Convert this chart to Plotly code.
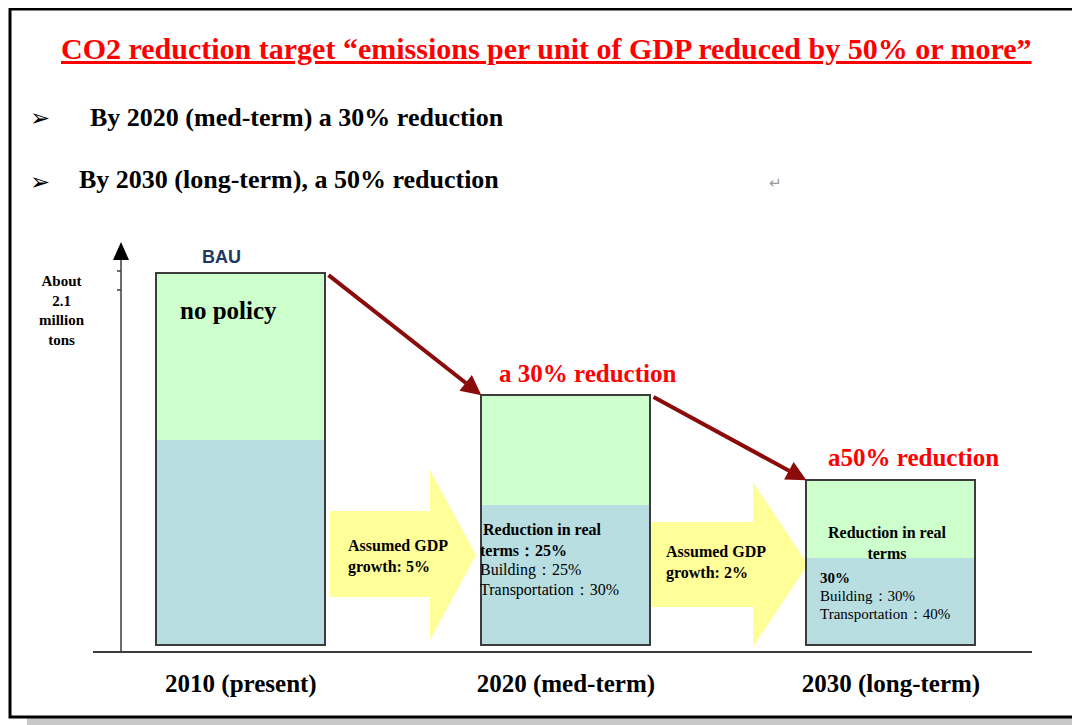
import plotly.graph_objects as go

# ---- data ----
categories = ["2010 (present)", "2020 (med-term)", "2030 (long-term)"]
cat_pos = [0, 1, 2]
total_emissions = [2.1, 1.41, 0.93]      # million tons (BAU = about 2.1)
real_reduction_part = [1.16, 0.79, 0.49]  # lower (blue) segment
bar_width = 0.52

OFF = 8  # page body margin in the browser
W, H = 1080 - OFF, 725 - OFF
SERIF = "Liberation Serif, Times New Roman, serif"

def px(x):
    return (x - OFF) / W

def py(y):
    return 1 - (y - OFF) / H

fig = go.Figure()

fig.add_trace(go.Bar(x=cat_pos, y=total_emissions, width=bar_width,
                     marker=dict(color="#CCFFCC", line=dict(width=0)),
                     hoverinfo="skip", showlegend=False))
fig.add_trace(go.Bar(x=cat_pos, y=real_reduction_part, width=bar_width,
                     marker=dict(color="#B8DEE2", line=dict(width=0)),
                     hoverinfo="skip", showlegend=False))
fig.add_trace(go.Bar(x=cat_pos, y=total_emissions, width=bar_width,
                     marker=dict(color="rgba(0,0,0,0)", line=dict(width=2, color="#3c3c3c")),
                     hoverinfo="skip", showlegend=False))

shapes = []
shapes.append(dict(type="rect", xref="paper", yref="paper", x0=px(27), x1=px(1080), y0=py(725), y1=py(20),
                   fillcolor="#C8C8C8", line=dict(width=0), layer="below"))
shapes.append(dict(type="rect", xref="paper", yref="paper", x0=px(10), x1=px(1077), y0=py(717), y1=py(9),
                   fillcolor="white", line=dict(width=3, color="black"), layer="below"))
shapes.append(dict(type="line", xref="paper", yref="paper", x0=px(93), x1=px(1032), y0=py(652), y1=py(652),
                   line=dict(width=2, color="#3c3c3c"), layer="below"))
shapes.append(dict(type="line", xref="paper", yref="paper", x0=px(121), x1=px(121), y0=py(652), y1=py(258),
                   line=dict(width=1.5, color="#3c3c3c"), layer="below"))
shapes.append(dict(type="path", xref="paper", yref="paper",
                   path=f"M {px(113)} {py(260)} L {px(129)} {py(260)} L {px(121)} {py(242)} Z",
                   fillcolor="black", line=dict(width=0), layer="below"))
for ty in (271, 290):
    shapes.append(dict(type="line", xref="paper", yref="paper", x0=px(117), x1=px(121), y0=py(ty), y1=py(ty),
                       line=dict(width=1.5, color="#3c3c3c"), layer="below"))

def block_arrow(x0, xh, xt, yb0, yb1, yh0, yh1):
    pts = [(x0, yb0), (xh, yb0), (xh, yh0), (xt, (yh0 + yh1) / 2), (xh, yh1), (xh, yb1), (x0, yb1)]
    d = "M " + " L ".join(f"{px(a)} {py(b)}" for a, b in pts) + " Z"
    return dict(type="path", xref="paper", yref="paper", path=d,
                fillcolor="#FFFF99", line=dict(width=0), layer="below")

shapes.append(block_arrow(330, 430, 476, 511, 597, 470, 640))
shapes.append(block_arrow(650, 753, 808, 522, 607, 482, 647))

annotations = []

def txt(x, y, s, size, color="black", bold=True, family=SERIF, xanchor="left", align="left"):
    if bold:
        s = f"<b>{s}</b>"
    annotations.append(dict(x=px(x), y=py(y), xref="paper", yref="paper", text=s, showarrow=False,
                            xanchor=xanchor, yanchor="middle", align=align,
                            font=dict(size=size, color=color, family=family)))

txt(546, 48, "<u>CO2 reduction target “emissions per unit of GDP reduced by 50% or more”</u>", 30,
    color="#FF0000", xanchor="center", align="center")
txt(28, 118, "➢", 24, family="DejaVu Sans", bold=False)
txt(88, 117, "By 2020 (med-term) a 30% reduction", 26)
txt(28, 182, "➢", 24, family="DejaVu Sans", bold=False)
txt(77, 180, "By 2030 (long-term), a 50% reduction", 26)
txt(775, 183, "↵", 15, color="#999999", bold=False, family="DejaVu Sans", xanchor="center")

txt(62, 311, "About<br>2.1<br>million<br>tons", 15, xanchor="center", align="center")
txt(200, 257, "BAU", 18, color="#1F3864", family="Arial, Liberation Sans, sans-serif")
txt(178, 310, "no policy", 25)

txt(497, 373, "a 30% reduction", 25, color="#FF0000")
txt(826, 457, "a50% reduction", 25, color="#FF0000")

txt(398, 556, "Assumed GDP<br>growth: 5%", 16, xanchor="center", align="left")
txt(716, 562, "Assumed GDP<br>growth: 2%", 16, xanchor="center", align="left")

txt(481, 529, "Reduction in real", 16)
txt(478, 550, "terms：25%", 16)
txt(478, 570, "Building：25%", 16, bold=False)
txt(478, 590, "Transportation：30%", 16, bold=False)

txt(887, 543, "Reduction in real<br>terms", 16, xanchor="center", align="center")
txt(818, 578, "30%", 15)
txt(818, 596, "Building：30%", 15, bold=False)
txt(818, 614, "Transportation：40%", 15, bold=False)

for i in range(len(cat_pos) - 1):
    annotations.append(dict(
        x=cat_pos[i + 1] - bar_width / 2, y=total_emissions[i + 1], xref="x", yref="y",
        ax=cat_pos[i] + bar_width / 2 + 0.005, ay=total_emissions[i] - 0.005, axref="x", ayref="y",
        showarrow=True, arrowhead=2, arrowsize=1, arrowwidth=4, arrowcolor="#8B0A0A",
        text="", standoff=0, startstandoff=0))

fig.update_layout(
    width=W, height=H,
    margin=dict(l=0, r=0, t=0, b=0),
    paper_bgcolor="white", plot_bgcolor="rgba(0,0,0,0)",
    barmode="overlay", bargap=0,
    shapes=shapes, annotations=annotations,
    xaxis=dict(domain=[px(93), px(1032)], range=[-0.455, 2.434],
               tickvals=cat_pos, ticktext=[f"<b>{c}</b>" for c in categories],
               tickfont=dict(size=25, family=SERIF, color="black"),
               ticks="outside", ticklen=9, tickcolor="rgba(0,0,0,0)",
               showgrid=False, zeroline=False, showline=False, fixedrange=True),
    yaxis=dict(domain=[py(652), py(245)], range=[-0.0395, 2.258],
               showticklabels=False, showgrid=False, zeroline=False, showline=False, ticks="",
               fixedrange=True),
)

fig.write_html("out.html")
